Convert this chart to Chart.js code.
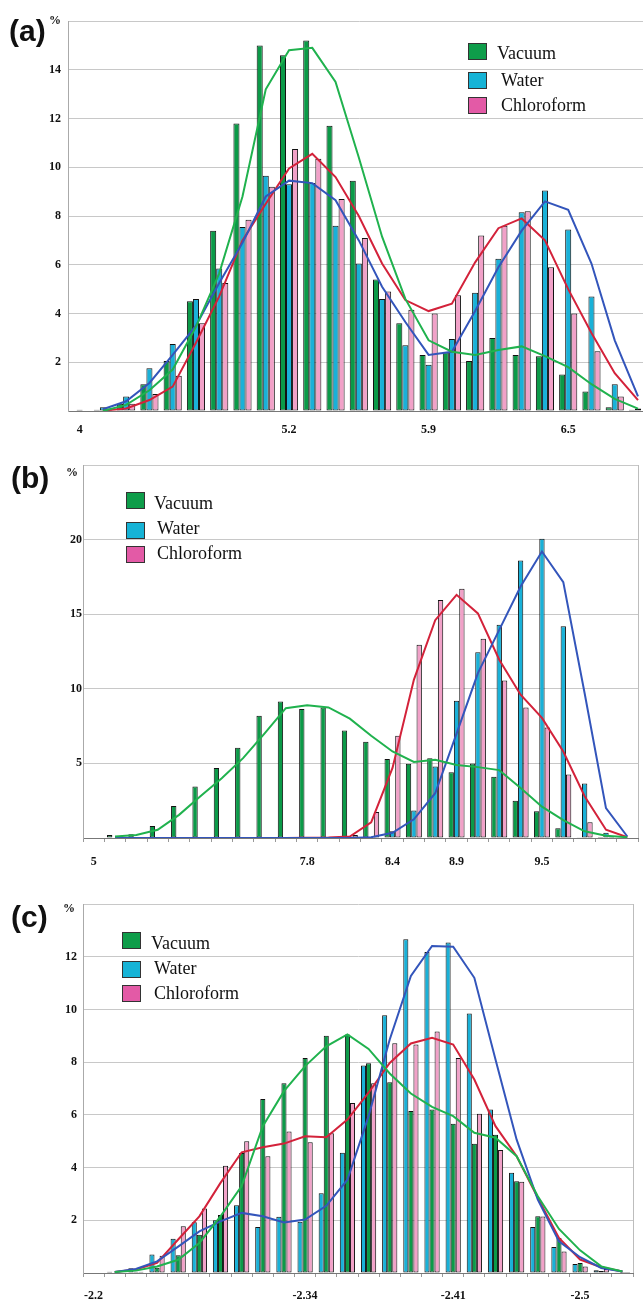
<!DOCTYPE html>
<html lang="en">
<head>
<meta charset="UTF-8">
<title>Distributions: Vacuum, Water, Chloroform</title>
<script src="https://cdn.jsdelivr.net/npm/chart.js"></script>
<style>
    html, body { margin: 0; padding: 0; background: #fff; overflow: hidden; }
    body { width: 643px; height: 1303px; position: relative; }
    .panel { position: absolute; left: 0; }
    .tag { position: absolute; font: bold 30px "Liberation Sans", Arial, sans-serif; line-height: 30px; color: #111; }
    .pct { position: absolute; font: bold 12px "Liberation Serif", "Times New Roman", serif; line-height: 12px; color: #111; }
    .item { position: absolute; font: 18px "Liberation Serif", "Times New Roman", serif; line-height: 18px; color: #111; white-space: nowrap; }
    .box { position: absolute; width: 17px; height: 15px; border: 1px solid #333; }
</style>
</head>
<body>

<canvas id="chartA" class="panel" style="top:0" width="650" height="440"></canvas>
<canvas id="chartB" class="panel" style="top:440px" width="643" height="430"></canvas>
<canvas id="chartC" class="panel" style="top:870px" width="643" height="440"></canvas>

<!-- panel letters and % marks -->
<div class="tag" style="left:9px;top:16px">(a)</div>
<div class="pct" style="left:49px;top:14px">%</div>
<div class="tag" style="left:11px;top:463px">(b)</div>
<div class="pct" style="left:66px;top:466px">%</div>
<div class="tag" style="left:11px;top:902px">(c)</div>
<div class="pct" style="left:63px;top:902px">%</div>

<!-- legends -->
<div class="box" style="left:468px;top:43px;background:#0e9d4a"></div>
<div class="item" style="left:497px;top:44px">Vacuum</div>
<div class="box" style="left:468px;top:72px;background:#16b3d6"></div>
<div class="item" style="left:501px;top:71px">Water</div>
<div class="box" style="left:468px;top:97px;background:#e35aa6"></div>
<div class="item" style="left:501px;top:96px">Chloroform</div>

<div class="box" style="left:126px;top:492px;background:#0e9d4a"></div>
<div class="item" style="left:154px;top:494px">Vacuum</div>
<div class="box" style="left:126px;top:522px;background:#16b3d6"></div>
<div class="item" style="left:157px;top:519px">Water</div>
<div class="box" style="left:126px;top:546px;background:#e35aa6"></div>
<div class="item" style="left:157px;top:544px">Chloroform</div>

<div class="box" style="left:122px;top:932px;background:#0e9d4a"></div>
<div class="item" style="left:151px;top:934px">Vacuum</div>
<div class="box" style="left:122px;top:961px;background:#16b3d6"></div>
<div class="item" style="left:154px;top:959px">Water</div>
<div class="box" style="left:122px;top:985px;background:#e35aa6"></div>
<div class="item" style="left:154px;top:984px">Chloroform</div>

<script>
// ---- panel (a) ----
const aLabels = ['4', '', '', '', '', '', '', '', '', '5.2', '', '', '', '', '', '5.9', '', '', '', '', '', '6.5', '', '', ''];
const aVacuum = [0, 0.05, 0.3, 1.1, 2.05, 4.5, 7.4, 11.8, 15.0, 14.6, 15.2, 11.7, 9.45, 5.4, 3.6, 2.3, 2.4, 2.05, 3.0, 2.3, 2.25, 1.5, 0.8, 0.15, 0.05];
const aWater = [0.05, 0.15, 0.6, 1.75, 2.75, 4.6, 5.85, 7.55, 9.65, 9.3, 9.35, 7.6, 6.05, 4.6, 2.7, 1.9, 2.95, 4.85, 6.25, 8.15, 9.05, 7.45, 4.7, 1.1, 0.1];
const aChloro = [0, 0.1, 0.3, 0.7, 1.45, 3.6, 5.25, 7.85, 9.2, 10.75, 10.35, 8.7, 7.1, 4.9, 4.15, 4.0, 4.75, 7.2, 7.6, 8.2, 5.9, 4.0, 2.45, 0.6, 0];
const aVacuumFit = [null, 0, 0.25, 0.85, 1.7, 3.45, 5.65, 8.8, 13.2, 14.8, 14.9, 13.5, 10.4, 7.15, 4.6, 2.9, 2.43, 2.3, 2.5, 2.65, 2.25, 1.8, 1.1, 0.5, 0.1];
const aWaterFit = [null, 0.07, 0.4, 1.15, 2.3, 3.5, 5.25, 6.9, 8.8, 9.45, 9.35, 8.65, 7.0, 5.1, 3.65, 2.3, 2.43, 4.1, 5.9, 7.4, 8.6, 8.25, 6.05, 2.9, 0.6];
const aChloroFit = [null, 0.02, 0.1, 0.45, 1.0, 2.8, 4.7, 7.0, 8.5, 9.95, 10.55, 9.6, 8.0, 6.05, 4.55, 4.1, 4.4, 6.1, 7.5, 7.9, 7.0, 5.0, 3.2, 1.55, 0.45];

// ---- panel (b) ----
const bLabels = ['5', '', '', '', '', '', '', '', '', '', '7.8', '', '', '', '8.4', '', '', '8.9', '', '', '', '9.5', '', '', '', ''];
const bVacuum = [0, 0.2, 0.25, 0.8, 2.15, 3.45, 4.7, 6.05, 8.2, 9.15, 8.65, 8.75, 7.2, 6.45, 5.3, 4.97, 5.35, 4.4, 5.0, 4.1, 2.5, 1.8, 0.65, 0.05, 0.07, 0];
const bWater = [0, 0, 0, 0, 0, 0, 0, 0, 0, 0, 0, 0, 0, 0, 0.45, 1.85, 4.8, 9.2, 12.45, 14.3, 18.6, 20.05, 14.2, 3.65, 0.35, 0];
const bChloro = [0, 0, 0, 0, 0, 0, 0, 0, 0, 0, 0, 0.05, 0.2, 1.75, 6.85, 12.95, 15.95, 16.7, 13.35, 10.55, 8.75, 7.4, 4.25, 1.05, 0.1, 0];
const bVacuumFit = [null, 0.1, 0.2, 0.55, 1.55, 2.8, 4.0, 5.35, 7.0, 8.7, 8.9, 8.75, 8.0, 6.85, 5.8, 5.1, 5.25, 4.9, 4.75, 4.55, 3.35, 2.1, 1.2, 0.45, 0.15, 0.05];
const bWaterFit = [null, 0, 0, 0, 0, 0, 0, 0, 0, 0, 0, 0, 0, 0.05, 0.35, 1.25, 3.0, 7.0, 11.05, 13.95, 16.85, 19.2, 17.15, 9.7, 2.0, 0.1];
const bChloroFit = [null, 0, 0, 0, 0, 0, 0, 0, 0, 0, 0.02, 0.03, 0.1, 1.05, 4.7, 10.6, 14.6, 16.3, 15.05, 11.95, 9.6, 8.05, 5.8, 2.8, 0.55, 0.05];

// ---- panel (c) ----
const cLabels = ['-2.2', '', '', '', '', '', '', '', '', '', '-2.34', '', '', '', '', '', '', '-2.41', '', '', '', '', '', '-2.5', '', ''];
const cWater = [0, 0.05, 0.18, 0.7, 1.3, 1.93, 2.0, 2.57, 1.75, 2.13, 1.94, 3.03, 4.56, 7.87, 9.78, 12.66, 12.18, 12.54, 9.85, 6.2, 3.8, 1.75, 0.99, 0.34, 0.1, 0.03];
const cVacuum = [0, 0, 0.05, 0.2, 0.67, 1.45, 2.2, 4.55, 6.6, 7.2, 8.16, 9.0, 9.05, 7.96, 7.24, 6.15, 6.2, 5.66, 4.9, 5.25, 3.48, 2.15, 1.33, 0.38, 0.08, 0.04];
const cChloro = [0, 0, 0.05, 0.65, 1.77, 2.45, 4.07, 5.0, 4.43, 5.37, 4.96, 5.3, 6.45, 7.2, 8.72, 8.67, 9.16, 8.16, 6.04, 4.67, 3.46, 2.14, 0.82, 0.25, 0.15, 0.04];
const cWaterFit = [null, 0.04, 0.15, 0.44, 1.0, 1.58, 1.96, 2.28, 2.15, 1.92, 2.03, 2.55, 3.54, 5.95, 8.86, 11.27, 12.41, 12.38, 11.2, 8.1, 5.06, 2.78, 1.2, 0.6, 0.19, 0.06];
const cVacuumFit = [null, 0.04, 0.09, 0.25, 0.5, 1.14, 2.15, 3.3, 5.57, 6.9, 7.85, 8.6, 9.05, 8.5, 7.57, 6.81, 6.3, 5.95, 5.32, 5.13, 4.43, 2.91, 1.67, 0.86, 0.25, 0.06];
const cChloroFit = [null, 0.04, 0.13, 0.38, 1.27, 2.15, 3.42, 4.58, 4.77, 4.91, 5.19, 5.15, 5.82, 6.84, 7.97, 8.71, 8.92, 8.67, 7.34, 5.57, 4.43, 2.85, 1.33, 0.51, 0.22, 0.06];

const green = '#0b9a48', cyan = '#19b1d8', pink = '#f1a1c8';
const lineGreen = '#20b24e', lineBlue = '#3355bb', lineRed = '#d3223a';
const tickFont = { family: 'Liberation Serif', weight: 'bold', size: 12 };

// right edge of the plot frame
const frame = {
    id: 'frame',
    beforeDatasetsDraw(chart) {
        const { ctx, chartArea } = chart;
        ctx.save();
        ctx.strokeStyle = '#bdbdbd';
        ctx.lineWidth = 1;
        ctx.beginPath();
        ctx.moveTo(chartArea.right + 0.5, chartArea.top);
        ctx.lineTo(chartArea.right + 0.5, chartArea.bottom);
        ctx.stroke();
        ctx.restore();
    }
};

function makePanel(id, labels, bars, fits, o) {
    const datasets = [];
    fits.forEach(f => datasets.push({
        type: 'line', data: f[0], borderColor: f[1], borderWidth: 2,
        pointRadius: 0, tension: 0, fill: false, order: 0
    }));
    bars.forEach(b => datasets.push({
        type: 'bar', data: b[0], backgroundColor: b[1], borderColor: '#111',
        borderWidth: 1, borderSkipped: false, order: 1,
        categoryPercentage: o.catPct, barPercentage: 1
    }));
    return new Chart(document.getElementById(id), {
        data: { labels: labels, datasets: datasets },
        options: {
            responsive: false,
            animation: false,
            layout: { padding: { top: o.top, right: o.right, left: 0, bottom: 0 } },
            plugins: { legend: { display: false }, tooltip: { enabled: false } },
            scales: {
                x: {
                    type: 'category',
                    offset: true,
                    grid: { display: true, drawOnChartArea: false, drawTicks: o.xTicks, tickLength: 4, color: '#999', offset: true },
                    border: { display: true, color: '#777' },
                    ticks: { autoSkip: false, maxRotation: 0, padding: o.xPad, color: '#111', font: tickFont },
                    afterFit: s => { s.height = o.xH; }
                },
                y: {
                    min: 0, max: o.yMax,
                    grid: { color: '#c8c8c8', drawTicks: false },
                    border: { color: '#aaa' },
                    ticks: {
                        stepSize: o.step, padding: o.yPad, color: '#111', font: tickFont,
                        callback: v => (v === 0 || v === o.yMax) ? '' : v
                    },
                    afterFit: s => { s.width = o.left; }
                }
            }
        },
        plugins: o.frame ? [frame] : []
    });
}

makePanel('chartA', aLabels,
    [[aVacuum, green], [aWater, cyan], [aChloro, pink]],
    [[aVacuumFit, lineGreen], [aWaterFit, lineBlue], [aChloroFit, lineRed]],
    { top: 21, right: 0, left: 68, xH: 29, xPad: 12, xTicks: false, yMax: 16, step: 2, yPad: 7, catPct: 0.78, frame: false });

makePanel('chartB', bLabels,
    [[bVacuum, green], [bWater, cyan], [bChloro, pink]],
    [[bVacuumFit, lineGreen], [bWaterFit, lineBlue], [bChloroFit, lineRed]],
    { top: 25, right: 5, left: 83, xH: 32, xPad: 13, xTicks: true, yMax: 25, step: 5, yPad: 1, catPct: 0.75, frame: true });

// in panel (c) the Water bar comes first in each group
makePanel('chartC', cLabels,
    [[cWater, cyan], [cVacuum, green], [cChloro, pink]],
    [[cVacuumFit, lineGreen], [cWaterFit, lineBlue], [cChloroFit, lineRed]],
    { top: 34, right: 10, left: 83, xH: 37, xPad: 12, xTicks: true, yMax: 14, step: 2, yPad: 6, catPct: 0.72, frame: true });
</script>
</body>
</html>
